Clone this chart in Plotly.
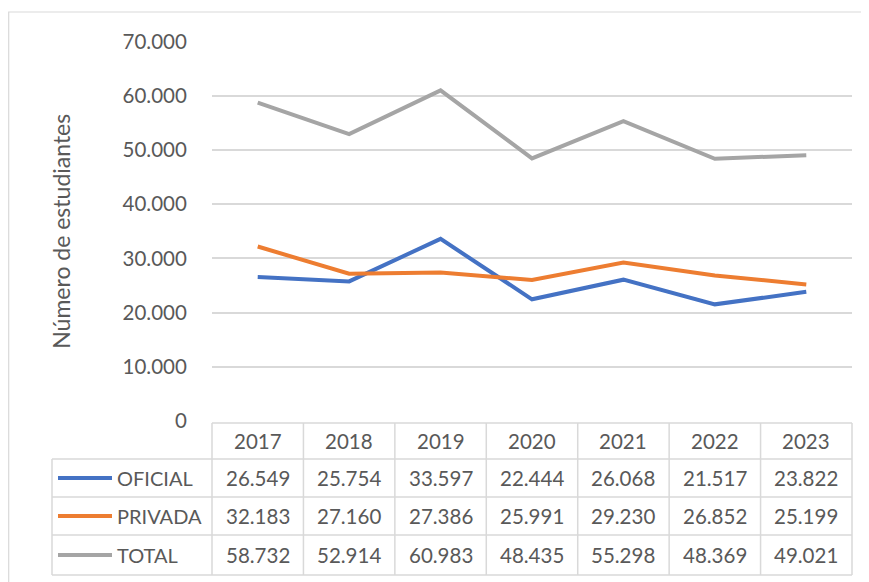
import plotly.graph_objects as go

years = ["2017", "2018", "2019", "2020", "2021", "2022", "2023"]
oficial = [26549, 25754, 33597, 22444, 26068, 21517, 23822]
privada = [32183, 27160, 27386, 25991, 29230, 26852, 25199]
total = [58732, 52914, 60983, 48435, 55298, 48369, 49021]
series_names = ["OFICIAL", "PRIVADA", "TOTAL"]
series_values = [oficial, privada, total]
series_colors = ["#4472C4", "#ED7D31", "#A5A5A5"]
y_ticks = [0, 10000, 20000, 30000, 40000, 50000, 60000, 70000]

# the page body adds an 8px margin; size the figure to fill the rest of the window
OFF = 8
W, H = 869 - OFF, 582 - OFF
FONT = "Lato, Carlito, Calibri, sans-serif"
TXT = "#595959"
GRID = "#D9D9D9"
FS = 20.5

def px(x):
    return (x - OFF) / W

def py(y):
    return 1 - (y - OFF) / H

plot_l, plot_r = 212, 852
plot_t, plot_b = 41.5, 421
y_max = 70000
pad = 150  # small extra range so the top gridline is drawn
k = (plot_b - plot_t) / y_max
tbl_left = 52
row_edges = [423, 459, 497, 535, 575]
ncol = len(years)
col_w = (plot_r - plot_l) / ncol

fig = go.Figure()
xs = list(range(ncol))
for name, vals, col in zip(series_names, series_values, series_colors):
    fig.add_trace(go.Scatter(x=xs, y=vals, mode="lines", name=name,
                             line=dict(color=col, width=4), showlegend=False,
                             hoverinfo="skip"))

shapes = []
annots = []
shapes.append(dict(type="rect", xref="paper", yref="paper",
                   x0=px(8.7), x1=px(900), y0=py(620), y1=py(12),
                   line=dict(color="#D9D9D9", width=1.2)))

line_style = dict(color=GRID, width=1.5)
shapes.append(dict(type="line", xref="paper", yref="paper", x0=px(plot_l), x1=px(plot_r),
                   y0=py(row_edges[0]), y1=py(row_edges[0]), line=line_style))
for r in row_edges[1:]:
    shapes.append(dict(type="line", xref="paper", yref="paper", x0=px(tbl_left), x1=px(plot_r),
                       y0=py(r), y1=py(r), line=line_style))
for i in range(ncol + 1):
    xx = plot_l + i * col_w
    shapes.append(dict(type="line", xref="paper", yref="paper", x0=px(xx), x1=px(xx),
                       y0=py(row_edges[0]), y1=py(row_edges[-1]), line=line_style))
shapes.append(dict(type="line", xref="paper", yref="paper", x0=px(tbl_left), x1=px(tbl_left),
                   y0=py(row_edges[1]), y1=py(row_edges[-1]), line=line_style))

for i, yr in enumerate(years):
    cx = plot_l + (i + 0.5) * col_w
    annots.append(dict(xref="paper", yref="paper", x=px(cx), y=py((row_edges[0] + row_edges[1]) / 2),
                       text=yr, showarrow=False, xanchor="center", yanchor="middle",
                       font=dict(family=FONT, size=FS, color=TXT)))

def fmt(v):
    return f"{v:,}".replace(",", ".")

for r, (name, vals, col) in enumerate(zip(series_names, series_values, series_colors)):
    cy = (row_edges[r + 1] + row_edges[r + 2]) / 2
    shapes.append(dict(type="line", xref="paper", yref="paper", x0=px(58), x1=px(112),
                       y0=py(cy), y1=py(cy), line=dict(color=col, width=4)))
    annots.append(dict(xref="paper", yref="paper", x=px(115), y=py(cy), text=name,
                       showarrow=False, xanchor="left", yanchor="middle",
                       font=dict(family=FONT, size=FS - 0.5, color=TXT)))
    for i, v in enumerate(vals):
        cx = plot_l + (i + 0.5) * col_w
        annots.append(dict(xref="paper", yref="paper", x=px(cx), y=py(cy), text=fmt(v),
                           showarrow=False, xanchor="center", yanchor="middle",
                           font=dict(family=FONT, size=FS, color=TXT)))

annots.append(dict(xref="paper", yref="paper", x=px(61), y=py((plot_t + plot_b) / 2 + 0.5),
                   text="Número de estudiantes", textangle=-90, showarrow=False,
                   xanchor="center", yanchor="middle",
                   font=dict(family=FONT, size=23, color=TXT)))

fig.update_layout(
    width=W, height=H,
    margin=dict(l=0, r=0, t=0, b=0, autoexpand=False),
    paper_bgcolor="white", plot_bgcolor="white",
    separators=",.",
    xaxis=dict(domain=[px(plot_l), px(plot_r)], range=[-0.5, ncol - 0.5],
               showgrid=False, zeroline=False, showticklabels=False, ticks="",
               automargin=False, fixedrange=True),
    yaxis=dict(domain=[py(plot_b + pad * k), py(plot_t - pad * k)], range=[-pad, y_max + pad],
               tickvals=y_ticks, tickformat=",d", showgrid=True, gridcolor=GRID,
               gridwidth=1.5, zeroline=False, ticks="outside", ticklen=20,
               tickcolor="rgba(0,0,0,0)", automargin=False,
               tickfont=dict(family=FONT, size=FS, color=TXT)),
    shapes=shapes, annotations=annots,
)

fig.write_html("out.html")
